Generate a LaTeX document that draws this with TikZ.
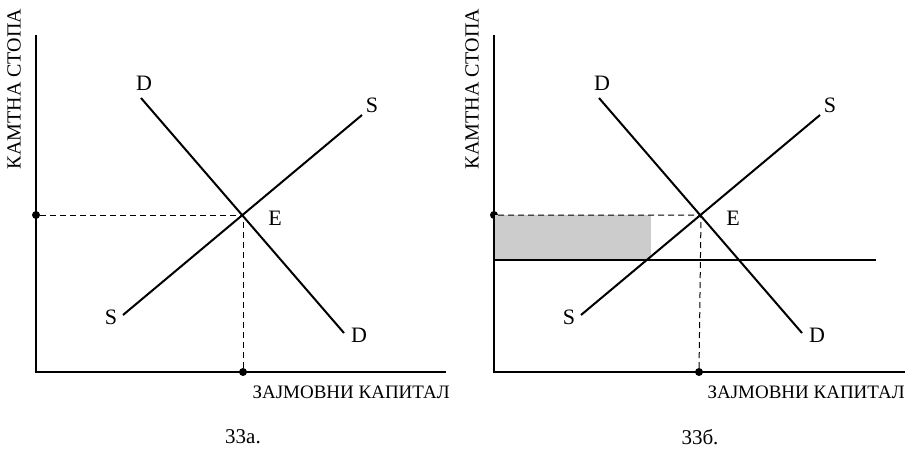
\documentclass[tikz,border=0pt]{standalone}
\usepackage{fontspec}
\setmainfont{Liberation Serif}
\usepackage{xcolor}
\usepackage{tikz}
\usetikzlibrary{positioning}

\definecolor{shadegray}{HTML}{CCCCCC}

\begin{document}
\begin{tikzpicture}[
    x=1pt, y=-1pt,
    every node/.style={font=\fontsize{20}{23}\selectfont},
    axis/.style={line width=2.2pt},
    curve/.style={line width=2pt},
    guide/.style={line width=1pt, dash pattern=on 6pt off 4pt},
    dot/.style={circle, fill=black, inner sep=0pt, minimum size=8pt},
    lbl/.style={inner sep=1pt, font=\fontsize{22}{25}\selectfont},
    axlbl/.style={anchor=west, font=\fontsize{19}{22}\selectfont},
    figcap/.style={font=\fontsize{21}{24}\selectfont}
]
\useasboundingbox (0,0) rectangle (913,450);

% --- 33a ---
\coordinate (oa) at (36,372);
\coordinate (ya) at (36,35);
\coordinate (xa) at (446,372);
\coordinate (ea) at (243,215);
\coordinate (d1a) at (141,98);
\coordinate (d2a) at (344,333);
\coordinate (s1a) at (123,315);
\coordinate (s2a) at (362,115);
\node[dot] (pa) at (36,215) {};
\node[dot] (qa) at (243,372) {};

\draw[guide] (pa) -- (ea) -- (qa);
\draw[axis] (ya) -- (oa) -- (xa);
\draw[curve] (d1a) -- (d2a);
\draw[curve] (s1a) -- (s2a);

\node[lbl] (dta) at (144,83) {D};
\node[lbl] (dba) at (359,335) {D};
\node[lbl] (sba) at (111,317) {S};
\node[lbl] (sta) at (372,105) {S};
\node[lbl] (ela) at (275,218) {E};
\node[rotate=90] (yla) at (14,89) {КАМТНА СТОПА};
\node[axlbl] (xla) at (249,392) {ЗАЈМОВНИ КАПИТАЛ};
\node[figcap] (capa) at (243,437) {33а.};

% --- 33b ---
\coordinate (ob) at (494,372);
\coordinate (yb) at (494,35);
\coordinate (xb) at (905,372);
\coordinate (eb) at (701,215);
\coordinate (d1b) at (599,98);
\coordinate (d2b) at (802,333);
\coordinate (s1b) at (581,315);
\coordinate (s2b) at (820,115);
\coordinate (hl) at (494,260);
\coordinate (hr) at (876,260);
\node[dot] (pb) at (494,215) {};
\node[dot] (qb) at (699,372) {};

\fill[shadegray] (494,215) rectangle (651,260);
\draw[guide] (pb) -- (eb) -- (qb);
\draw[curve] (hl) -- (hr);
\draw[axis] (yb) -- (ob) -- (xb);
\draw[curve] (d1b) -- (d2b);
\draw[curve] (s1b) -- (s2b);

\node[lbl] (dtb) at (602,83) {D};
\node[lbl] (dbb) at (817,335) {D};
\node[lbl] (sbb) at (569,317) {S};
\node[lbl] (stb) at (830,105) {S};
\node[lbl] (elb) at (733,218) {E};
\node[rotate=90] (ylb) at (472,89) {КАМТНА СТОПА};
\node[axlbl] (xlb) at (704,392) {ЗАЈМОВНИ КАПИТАЛ};
\node[figcap] (capb) at (700,437) {33б.};
\end{tikzpicture}
\end{document}
